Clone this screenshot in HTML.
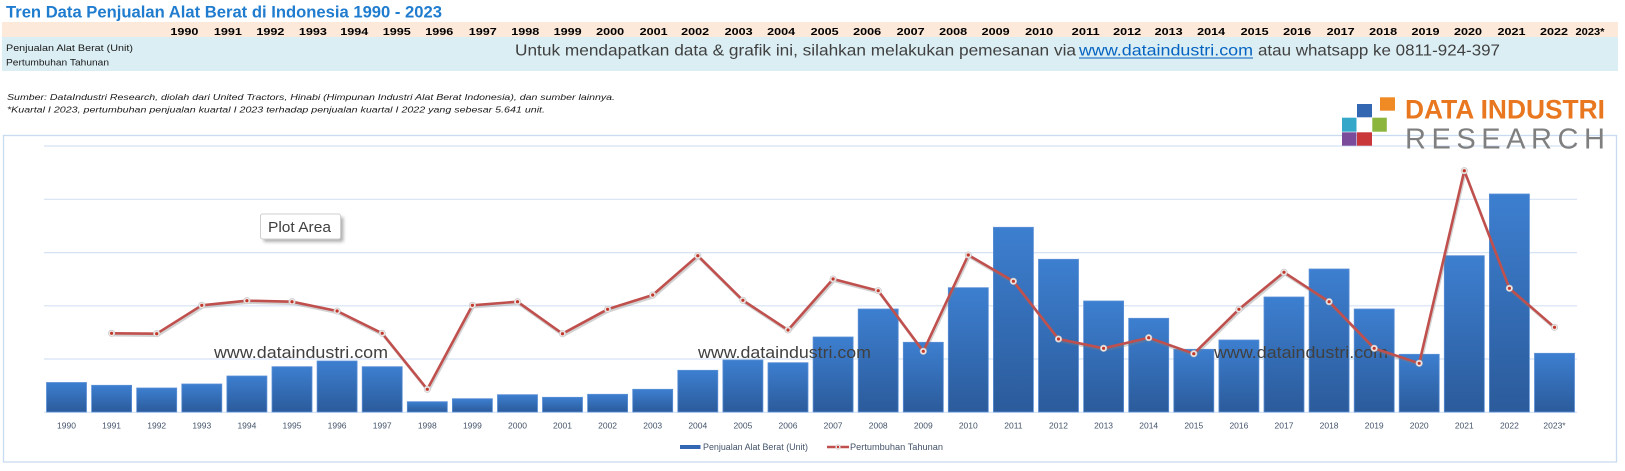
<!DOCTYPE html>
<html>
<head>
<meta charset="utf-8">
<style>
  html, body { margin: 0; padding: 0; background: #ffffff; }
  svg { display: block; }
  text { font-family: "Liberation Sans", Arial, sans-serif; }
</style>
</head>
<body>
<svg width="1625" height="471" viewBox="0 0 1625 471" xmlns="http://www.w3.org/2000/svg">
  <defs>
    <linearGradient id="barg" x1="0" y1="0" x2="0" y2="1">
      <stop offset="0" stop-color="#3d7fd0"/>
      <stop offset="1" stop-color="#2b5b9b"/>
    </linearGradient>
    <filter id="sh" x="-20%" y="-20%" width="150%" height="160%">
      <feGaussianBlur stdDeviation="1.5"/>
    </filter>
  </defs>

  <!-- Title -->
  <text x="6" y="17.3" font-size="17" font-weight="bold" fill="#1f7ccf" textLength="436" lengthAdjust="spacingAndGlyphs">Tren Data Penjualan Alat Berat di Indonesia 1990 - 2023</text>

  <!-- header bands -->
  <rect x="2" y="22" width="1616" height="15" fill="#fde9d9"/>
  <rect x="2" y="37" width="1616" height="34" fill="#dbeef4"/>

  <!-- Years -->
  <g font-size="10.5" font-weight="bold" fill="#000" text-anchor="middle">
    <text x="184.4" y="35" textLength="28" lengthAdjust="spacingAndGlyphs">1990</text>
    <text x="227.9" y="35" textLength="28" lengthAdjust="spacingAndGlyphs">1991</text>
    <text x="270.4" y="35" textLength="28" lengthAdjust="spacingAndGlyphs">1992</text>
    <text x="312.9" y="35" textLength="28" lengthAdjust="spacingAndGlyphs">1993</text>
    <text x="354.3" y="35" textLength="28" lengthAdjust="spacingAndGlyphs">1994</text>
    <text x="396.8" y="35" textLength="28" lengthAdjust="spacingAndGlyphs">1995</text>
    <text x="439.3" y="35" textLength="28" lengthAdjust="spacingAndGlyphs">1996</text>
    <text x="482.8" y="35" textLength="28" lengthAdjust="spacingAndGlyphs">1997</text>
    <text x="525.3" y="35" textLength="28" lengthAdjust="spacingAndGlyphs">1998</text>
    <text x="567.7" y="35" textLength="28" lengthAdjust="spacingAndGlyphs">1999</text>
    <text x="610.2" y="35" textLength="28" lengthAdjust="spacingAndGlyphs">2000</text>
    <text x="653.7" y="35" textLength="28" lengthAdjust="spacingAndGlyphs">2001</text>
    <text x="695.2" y="35" textLength="28" lengthAdjust="spacingAndGlyphs">2002</text>
    <text x="738.7" y="35" textLength="28" lengthAdjust="spacingAndGlyphs">2003</text>
    <text x="781.1" y="35" textLength="28" lengthAdjust="spacingAndGlyphs">2004</text>
    <text x="824.7" y="35" textLength="28" lengthAdjust="spacingAndGlyphs">2005</text>
    <text x="867.1" y="35" textLength="28" lengthAdjust="spacingAndGlyphs">2006</text>
    <text x="910.6" y="35" textLength="28" lengthAdjust="spacingAndGlyphs">2007</text>
    <text x="953.1" y="35" textLength="28" lengthAdjust="spacingAndGlyphs">2008</text>
    <text x="995.6" y="35" textLength="28" lengthAdjust="spacingAndGlyphs">2009</text>
    <text x="1039.1" y="35" textLength="28" lengthAdjust="spacingAndGlyphs">2010</text>
    <text x="1085.7" y="35" textLength="28" lengthAdjust="spacingAndGlyphs">2011</text>
    <text x="1127.2" y="35" textLength="28" lengthAdjust="spacingAndGlyphs">2012</text>
    <text x="1168.6" y="35" textLength="28" lengthAdjust="spacingAndGlyphs">2013</text>
    <text x="1211.1" y="35" textLength="28" lengthAdjust="spacingAndGlyphs">2014</text>
    <text x="1254.6" y="35" textLength="28" lengthAdjust="spacingAndGlyphs">2015</text>
    <text x="1297.1" y="35" textLength="28" lengthAdjust="spacingAndGlyphs">2016</text>
    <text x="1340.6" y="35" textLength="28" lengthAdjust="spacingAndGlyphs">2017</text>
    <text x="1383.1" y="35" textLength="28" lengthAdjust="spacingAndGlyphs">2018</text>
    <text x="1425.5" y="35" textLength="28" lengthAdjust="spacingAndGlyphs">2019</text>
    <text x="1468" y="35" textLength="28" lengthAdjust="spacingAndGlyphs">2020</text>
    <text x="1511.5" y="35" textLength="28" lengthAdjust="spacingAndGlyphs">2021</text>
    <text x="1554" y="35" textLength="28" lengthAdjust="spacingAndGlyphs">2022</text>
    <text x="1590" y="35" textLength="29" lengthAdjust="spacingAndGlyphs">2023*</text>
  </g>

  <!-- Row labels -->
  <text x="6" y="51" font-size="9" fill="#1a1a1a" textLength="127" lengthAdjust="spacingAndGlyphs">Penjualan Alat Berat (Unit)</text>
  <text x="6" y="65.5" font-size="9" fill="#1a1a1a" textLength="103" lengthAdjust="spacingAndGlyphs">Pertumbuhan Tahunan</text>

  <!-- Message -->
  <text x="515" y="55.5" font-size="16" fill="#404040" textLength="561" lengthAdjust="spacingAndGlyphs">Untuk mendapatkan data &amp; grafik ini, silahkan melakukan pemesanan via</text>
  <text x="1079" y="55.5" font-size="16" fill="#0563c1" textLength="174" lengthAdjust="spacingAndGlyphs">www.dataindustri.com</text>
  <rect x="1079" y="57.5" width="174" height="1" fill="#0563c1"/>
  <text x="1258" y="55.5" font-size="16" fill="#404040" textLength="242" lengthAdjust="spacingAndGlyphs">atau whatsapp ke 0811-924-397</text>

  <!-- Source notes -->
  <text x="7" y="100" font-size="8.5" font-style="italic" fill="#1a1a1a" textLength="608" lengthAdjust="spacingAndGlyphs">Sumber: DataIndustri Research, diolah dari United Tractors, Hinabi (Himpunan Industri Alat Berat Indonesia), dan sumber lainnya.</text>
  <text x="7" y="112.5" font-size="8.5" font-style="italic" fill="#1a1a1a" textLength="538" lengthAdjust="spacingAndGlyphs">*Kuartal I 2023, pertumbuhan penjualan kuartal I 2023 terhadap penjualan kuartal I 2022 yang sebesar 5.641 unit.</text>

  <!-- Chart frame -->
  <rect x="3.5" y="135.5" width="1613" height="326.5" fill="#ffffff" stroke="#c9dbf1" stroke-width="1.3"/>

  <!-- Gridlines -->
  <g stroke="#d5e3f4" stroke-width="1.2">
    <line x1="44" y1="146" x2="1577" y2="146"/>
    <line x1="44" y1="199.3" x2="1577" y2="199.3"/>
    <line x1="44" y1="252.6" x2="1577" y2="252.6"/>
    <line x1="44" y1="305.8" x2="1577" y2="305.8"/>
    <line x1="44" y1="359" x2="1577" y2="359"/>
    <line x1="44" y1="412.3" x2="1577" y2="412.3"/>
  </g>

  <!-- Bars -->
  <g fill="url(#barg)" stroke="#5b8fd6" stroke-width="0.8">
    <rect x="46.5" y="382.5" width="40" height="29.5"/>
    <rect x="91.6" y="385.3" width="40" height="26.7"/>
    <rect x="136.7" y="388" width="40" height="24"/>
    <rect x="181.8" y="384" width="40" height="28"/>
    <rect x="226.9" y="376" width="40" height="36"/>
    <rect x="272" y="366.7" width="40" height="45.3"/>
    <rect x="317.1" y="361" width="40" height="51"/>
    <rect x="362.2" y="366.7" width="40" height="45.3"/>
    <rect x="407.3" y="401.7" width="40" height="10.3"/>
    <rect x="452.4" y="398.7" width="40" height="13.3"/>
    <rect x="497.5" y="394.7" width="40" height="17.3"/>
    <rect x="542.5" y="397.3" width="40" height="14.7"/>
    <rect x="587.6" y="394.3" width="40" height="17.7"/>
    <rect x="632.7" y="389.3" width="40" height="22.7"/>
    <rect x="677.8" y="370.3" width="40" height="41.7"/>
    <rect x="722.9" y="360" width="40" height="52"/>
    <rect x="768" y="362.7" width="40" height="49.3"/>
    <rect x="813.1" y="337" width="40" height="75"/>
    <rect x="858.2" y="309" width="40" height="103"/>
    <rect x="903.3" y="342.3" width="40" height="69.7"/>
    <rect x="948.3" y="287.7" width="40" height="124.3"/>
    <rect x="993.4" y="227.3" width="40" height="184.7"/>
    <rect x="1038.5" y="259.3" width="40" height="152.7"/>
    <rect x="1083.6" y="301" width="40" height="111"/>
    <rect x="1128.7" y="318.3" width="40" height="93.7"/>
    <rect x="1173.8" y="349.3" width="40" height="62.7"/>
    <rect x="1218.9" y="340" width="40" height="72"/>
    <rect x="1264" y="297" width="40" height="115"/>
    <rect x="1309.1" y="269" width="40" height="143"/>
    <rect x="1354.2" y="309" width="40" height="103"/>
    <rect x="1399.2" y="354.3" width="40" height="57.7"/>
    <rect x="1444.3" y="255.7" width="40" height="156.3"/>
    <rect x="1489.4" y="194" width="40" height="218"/>
    <rect x="1534.5" y="353.3" width="40" height="58.7"/>
  </g>

  <!-- Watermarks -->
  <g font-size="17" fill="#404040">
    <text x="214" y="358" textLength="174" lengthAdjust="spacingAndGlyphs">www.dataindustri.com</text>
    <text x="698" y="358" textLength="173" lengthAdjust="spacingAndGlyphs">www.dataindustri.com</text>
    <text x="1214" y="358" textLength="174" lengthAdjust="spacingAndGlyphs">www.dataindustri.com</text>
  </g>

  <!-- Line shadow -->
  <polyline fill="none" stroke="#7f7f7f" stroke-opacity="0.35" stroke-width="2.5" stroke-linejoin="round" transform="translate(1,2)"
    points="111.6,333.3 156.7,333.7 201.8,305.3 246.9,300.7 292,301.7 337.1,311 382.2,333.3 427.3,389.3 472.4,305.3 517.5,301.7 562.5,333.7 607.6,309.3 652.7,295 697.8,255.7 742.9,300.3 788,330 833.1,279 878.2,290.7 923.3,351.3 968.3,255 1013.4,281.3 1058.5,339 1103.6,348.3 1148.7,337.7 1193.8,353.7 1238.9,309.3 1284,272.3 1329.1,301.7 1374.2,348.3 1419.2,363.3 1464.3,170.7 1509.4,288.3 1554.5,327.3"/>
  <!-- Line -->
  <polyline fill="none" stroke="#c0504d" stroke-width="2.6" stroke-linejoin="round"
    points="111.6,333.3 156.7,333.7 201.8,305.3 246.9,300.7 292,301.7 337.1,311 382.2,333.3 427.3,389.3 472.4,305.3 517.5,301.7 562.5,333.7 607.6,309.3 652.7,295 697.8,255.7 742.9,300.3 788,330 833.1,279 878.2,290.7 923.3,351.3 968.3,255 1013.4,281.3 1058.5,339 1103.6,348.3 1148.7,337.7 1193.8,353.7 1238.9,309.3 1284,272.3 1329.1,301.7 1374.2,348.3 1419.2,363.3 1464.3,170.7 1509.4,288.3 1554.5,327.3"/>

  <!-- Markers -->
  <g fill="#f0e6e6" stroke="#c9c9c9" stroke-width="0.7">
    <circle cx="111.6" cy="333.3" r="3.2"/><circle cx="156.7" cy="333.7" r="3.2"/><circle cx="201.8" cy="305.3" r="3.2"/><circle cx="246.9" cy="300.7" r="3.2"/><circle cx="292" cy="301.7" r="3.2"/><circle cx="337.1" cy="311" r="3.2"/><circle cx="382.2" cy="333.3" r="3.2"/><circle cx="427.3" cy="389.3" r="3.2"/><circle cx="472.4" cy="305.3" r="3.2"/><circle cx="517.5" cy="301.7" r="3.2"/><circle cx="562.5" cy="333.7" r="3.2"/><circle cx="607.6" cy="309.3" r="3.2"/><circle cx="652.7" cy="295" r="3.2"/><circle cx="697.8" cy="255.7" r="3.2"/><circle cx="742.9" cy="300.3" r="3.2"/><circle cx="788" cy="330" r="3.2"/><circle cx="833.1" cy="279" r="3.2"/><circle cx="878.2" cy="290.7" r="3.2"/><circle cx="923.3" cy="351.3" r="3.2"/><circle cx="968.3" cy="255" r="3.2"/><circle cx="1013.4" cy="281.3" r="3.2"/><circle cx="1058.5" cy="339" r="3.2"/><circle cx="1103.6" cy="348.3" r="3.2"/><circle cx="1148.7" cy="337.7" r="3.2"/><circle cx="1193.8" cy="353.7" r="3.2"/><circle cx="1238.9" cy="309.3" r="3.2"/><circle cx="1284" cy="272.3" r="3.2"/><circle cx="1329.1" cy="301.7" r="3.2"/><circle cx="1374.2" cy="348.3" r="3.2"/><circle cx="1419.2" cy="363.3" r="3.2"/><circle cx="1464.3" cy="170.7" r="3.2"/><circle cx="1509.4" cy="288.3" r="3.2"/><circle cx="1554.5" cy="327.3" r="3.2"/>
  </g>
  <g fill="#c0392b">
    <circle cx="111.6" cy="333.3" r="1.6"/><circle cx="156.7" cy="333.7" r="1.6"/><circle cx="201.8" cy="305.3" r="1.6"/><circle cx="246.9" cy="300.7" r="1.6"/><circle cx="292" cy="301.7" r="1.6"/><circle cx="337.1" cy="311" r="1.6"/><circle cx="382.2" cy="333.3" r="1.6"/><circle cx="427.3" cy="389.3" r="1.6"/><circle cx="472.4" cy="305.3" r="1.6"/><circle cx="517.5" cy="301.7" r="1.6"/><circle cx="562.5" cy="333.7" r="1.6"/><circle cx="607.6" cy="309.3" r="1.6"/><circle cx="652.7" cy="295" r="1.6"/><circle cx="697.8" cy="255.7" r="1.6"/><circle cx="742.9" cy="300.3" r="1.6"/><circle cx="788" cy="330" r="1.6"/><circle cx="833.1" cy="279" r="1.6"/><circle cx="878.2" cy="290.7" r="1.6"/><circle cx="923.3" cy="351.3" r="1.6"/><circle cx="968.3" cy="255" r="1.6"/><circle cx="1013.4" cy="281.3" r="1.6"/><circle cx="1058.5" cy="339" r="1.6"/><circle cx="1103.6" cy="348.3" r="1.6"/><circle cx="1148.7" cy="337.7" r="1.6"/><circle cx="1193.8" cy="353.7" r="1.6"/><circle cx="1238.9" cy="309.3" r="1.6"/><circle cx="1284" cy="272.3" r="1.6"/><circle cx="1329.1" cy="301.7" r="1.6"/><circle cx="1374.2" cy="348.3" r="1.6"/><circle cx="1419.2" cy="363.3" r="1.6"/><circle cx="1464.3" cy="170.7" r="1.6"/><circle cx="1509.4" cy="288.3" r="1.6"/><circle cx="1554.5" cy="327.3" r="1.6"/>
  </g>

  <!-- X axis labels -->
  <g font-size="8.5" fill="#44546a" text-anchor="middle">
    <text x="66.5" y="428.5">1990</text><text x="111.6" y="428.5">1991</text><text x="156.7" y="428.5">1992</text><text x="201.8" y="428.5">1993</text><text x="246.9" y="428.5">1994</text><text x="292" y="428.5">1995</text><text x="337.1" y="428.5">1996</text><text x="382.2" y="428.5">1997</text><text x="427.3" y="428.5">1998</text><text x="472.4" y="428.5">1999</text><text x="517.5" y="428.5">2000</text><text x="562.5" y="428.5">2001</text><text x="607.6" y="428.5">2002</text><text x="652.7" y="428.5">2003</text><text x="697.8" y="428.5">2004</text><text x="742.9" y="428.5">2005</text><text x="788" y="428.5">2006</text><text x="833.1" y="428.5">2007</text><text x="878.2" y="428.5">2008</text><text x="923.3" y="428.5">2009</text><text x="968.3" y="428.5">2010</text><text x="1013.4" y="428.5">2011</text><text x="1058.5" y="428.5">2012</text><text x="1103.6" y="428.5">2013</text><text x="1148.7" y="428.5">2014</text><text x="1193.8" y="428.5">2015</text><text x="1238.9" y="428.5">2016</text><text x="1284" y="428.5">2017</text><text x="1329.1" y="428.5">2018</text><text x="1374.2" y="428.5">2019</text><text x="1419.2" y="428.5">2020</text><text x="1464.3" y="428.5">2021</text><text x="1509.4" y="428.5">2022</text><text x="1554.5" y="428.5">2023*</text>
  </g>

  <!-- Legend -->
  <rect x="680" y="445" width="20.5" height="4" fill="#3366b3"/>
  <text x="703" y="450" font-size="8.8" fill="#44546a" textLength="105" lengthAdjust="spacingAndGlyphs">Penjualan Alat Berat (Unit)</text>
  <line x1="827" y1="447" x2="849" y2="447" stroke="#c0504d" stroke-width="2.4"/>
  <circle cx="838" cy="447" r="2.4" fill="#f0e6e6" stroke="#c9c9c9" stroke-width="0.6"/>
  <circle cx="838" cy="447" r="1.2" fill="#c0392b"/>
  <text x="850" y="450" font-size="8.8" fill="#44546a" textLength="93" lengthAdjust="spacingAndGlyphs">Pertumbuhan Tahunan</text>

  <!-- Plot Area tooltip -->
  <rect x="263.5" y="217" width="80" height="25" rx="2" fill="#6f6f6f" opacity="0.55" filter="url(#sh)"/>
  <rect x="260.5" y="214" width="80" height="25" rx="2" fill="#ffffff" stroke="#cfcfcf" stroke-width="1"/>
  <text x="268" y="232" font-size="15" fill="#404040" textLength="63" lengthAdjust="spacingAndGlyphs">Plot Area</text>

  <!-- Logo -->
  <rect x="1380" y="97.3" width="15" height="13.4" fill="#f08a24"/>
  <rect x="1357" y="104" width="15" height="13.3" fill="#3467b2"/>
  <rect x="1342" y="117.7" width="14.5" height="14" fill="#35a8c9"/>
  <rect x="1372.3" y="117.7" width="14.5" height="14" fill="#8cb53d"/>
  <rect x="1342" y="132.3" width="14.5" height="13.4" fill="#7a4b9b"/>
  <rect x="1357" y="132.3" width="15" height="13.4" fill="#c9373b"/>
  <text x="1405" y="118.3" font-size="27" font-weight="bold" fill="#e8771f" textLength="200" lengthAdjust="spacingAndGlyphs">DATA INDUSTRI</text>
  <text x="1405" y="148.3" font-size="29" fill="#7f7f7f" textLength="200" lengthAdjust="spacing">RESEARCH</text>
</svg>
</body>
</html>
